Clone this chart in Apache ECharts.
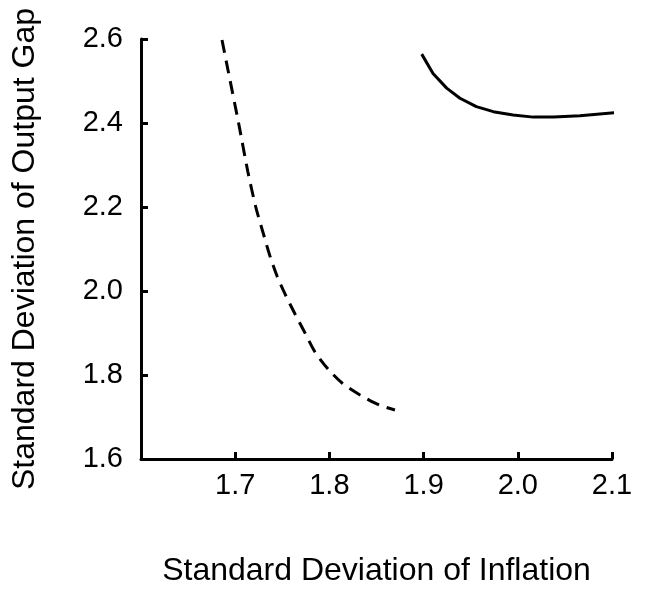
<!DOCTYPE html>
<html>
<head>
<meta charset="utf-8">
<script src="https://cdn.jsdelivr.net/npm/echarts@6/dist/echarts.min.js"></script>
<style>
html,body{margin:0;padding:0;background:#fff;}
#chart{width:647px;height:595px;}
</style>
</head>
<body>
<div id="chart"></div>
<script>
// Dashed curve: [std dev inflation, std dev output gap]
var dashedCurve = [
  [1.6860, 2.5976], [1.6919, 2.5310], [1.7038, 2.3976], [1.7135, 2.2833], [1.7221, 2.1976],
  [1.7300, 2.1357], [1.7369, 2.0833], [1.7444, 2.0357], [1.7529, 1.9929], [1.7635, 1.9452],
  [1.7736, 1.9024], [1.7847, 1.8548], [1.7985, 1.8143], [1.8134, 1.7810], [1.8325, 1.7524],
  [1.8527, 1.7286], [1.8696, 1.7167]
];
// Solid curve
var solidCurve = [
  [1.898, 2.564], [1.910, 2.518], [1.9245, 2.483], [1.9386, 2.459], [1.956, 2.439],
  [1.974, 2.427], [1.995, 2.419], [2.0165, 2.414], [2.038, 2.414], [2.066, 2.417],
  [2.105, 2.425]
];
var xTicks = { min: 1.6, max: 2.1, interval: 0.1 };
var yTicks = { min: 1.6, max: 2.6, interval: 0.2 };
var xTitle = 'Standard Deviation of Inflation';
var yTitle = 'Standard Deviation of Output Gap';

var chart = echarts.init(document.getElementById('chart'), null, { renderer: 'canvas' });
var font = 'Liberation Sans, Arial, sans-serif';
chart.setOption({
  backgroundColor: '#fff',
  animation: false,
  grid: { left: 141, right: 35, top: 39, bottom: 136, containLabel: false },
  xAxis: {
    type: 'value',
    min: xTicks.min, max: xTicks.max, interval: xTicks.interval,
    name: xTitle, nameLocation: 'middle', nameGap: 96,
    nameTextStyle: { fontFamily: font, fontSize: 32, color: '#000' },
    axisLine: { show: true, onZero: false, lineStyle: { color: '#000', width: 3 } },
    axisTick: { show: true, inside: true, length: 7, lineStyle: { color: '#000', width: 3 } },
    axisLabel: {
      fontFamily: font, fontSize: 29, color: '#000', margin: 12,
      formatter: function (v) { return v === xTicks.min ? '' : v.toFixed(1); }
    },
    splitLine: { show: false }
  },
  yAxis: {
    type: 'value',
    min: yTicks.min, max: yTicks.max, interval: yTicks.interval,
    name: yTitle, nameLocation: 'middle', nameGap: 100,
    nameTextStyle: { fontFamily: font, fontSize: 32, color: '#000' },
    axisLine: { show: true, onZero: false, lineStyle: { color: '#000', width: 3 } },
    axisTick: { show: true, inside: true, length: 7, lineStyle: { color: '#000', width: 3 } },
    axisLabel: {
      fontFamily: font, fontSize: 29, color: '#000', margin: 18,
      formatter: function (v) { return v.toFixed(1); }
    },
    splitLine: { show: false }
  },
  series: [
    {
      type: 'line', data: dashedCurve, smooth: 0.25, showSymbol: false, clip: false,
      lineStyle: { color: '#000', width: 3, type: [13, 8] }
    },
    {
      type: 'line', data: solidCurve, smooth: false, showSymbol: false, clip: false,
      lineStyle: { color: '#000', width: 3 }
    }
  ]
});
</script>
</body>
</html>
